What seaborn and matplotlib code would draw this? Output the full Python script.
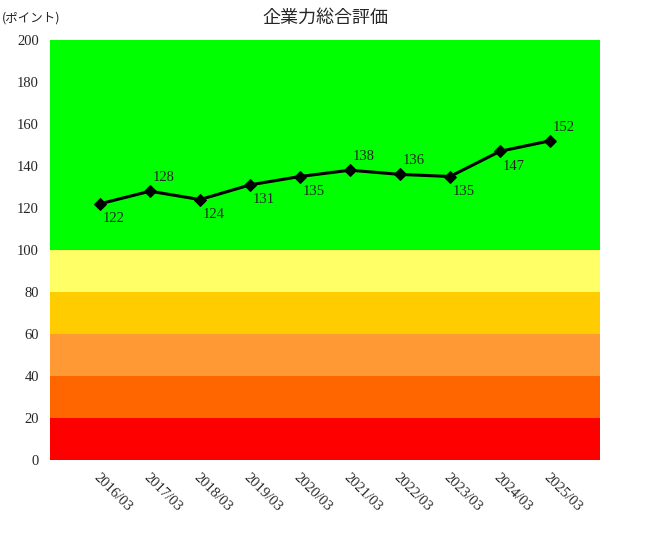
"""Corporate strength overall rating chart."""

import matplotlib
matplotlib.use('Agg')
import matplotlib.pyplot as plt
import seaborn as sns
import pandas as pd

periods = ['2016/03', '2017/03', '2018/03', '2019/03', '2020/03',
           '2021/03', '2022/03', '2023/03', '2024/03', '2025/03']
scores = [122, 128, 124, 131, 135, 138, 136, 135, 147, 152]
label_above = [False, True, False, False, False, True, True, False, False, True]
band_edges = [0, 20, 40, 60, 80, 100, 200]
band_colors = ['#FF0000', '#FF6600', '#FF9933', '#FFCC00', '#FFFF66', '#00FF00']

sns.set_style('white')
plt.rcParams['font.family'] = ['Liberation Serif', 'Noto Sans CJK JP']

df = pd.DataFrame({'pos': range(len(periods)), 'score': scores})

fig = plt.figure(figsize=(6.5, 5.4), dpi=100)
ax = fig.add_axes([50 / 650, 1 - 460 / 540, 550 / 650, 420 / 540])

# Background rating bands
for lo, hi, c in zip(band_edges[:-1], band_edges[1:], band_colors):
    ax.axhspan(lo, hi, color=c, zorder=0, lw=0)

sns.lineplot(data=df, x='pos', y='score', ax=ax, color='black', lw=2.2,
             marker='D', markersize=6, markeredgecolor='black', zorder=3)

for i, (v, up) in enumerate(zip(scores, label_above)):
    ax.annotate(str(v), (i, v), xytext=(2, 5 if up else -6), textcoords='offset points',
                ha='left', va='bottom' if up else 'top', fontsize=10.5)

ax.set_xlim(-1, 10)
ax.set_ylim(0, 200)
ax.set_yticks(range(0, 201, 20))
ax.set_xticks(range(len(periods)))
ax.set_xticklabels(periods, rotation=-45, ha='left', va='top', rotation_mode='anchor')
ax.tick_params(length=0, labelsize=10.5, pad=8)
ax.set_xlabel('')
ax.set_ylabel('')
for s in ax.spines.values():
    s.set_visible(False)

fig.text(0.5, 1 - 18 / 540, '企業力総合評価', ha='center', va='center', fontsize=13,
         family=['Noto Sans CJK JP'])
fig.text(2 / 650, 1 - 18 / 540, '(ポイント)', ha='left', va='center', fontsize=9,
         family=['Noto Sans CJK JP'])

fig.savefig('out.png', dpi=100)
plt.close(fig)
